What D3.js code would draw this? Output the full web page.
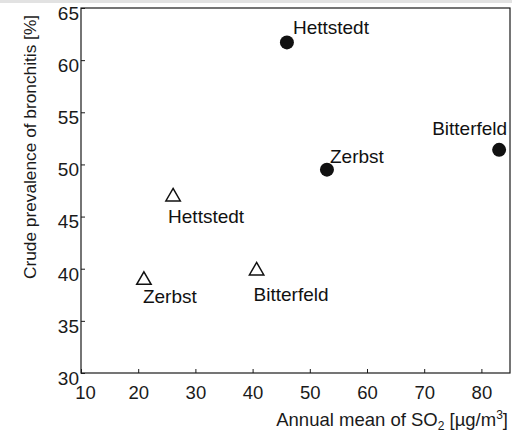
<!DOCTYPE html>
<html>
<head>
<meta charset="utf-8">
<script src="https://cdn.jsdelivr.net/npm/d3@7"></script>
<style>
  body { margin: 0; background: #fff; }
  svg { display: block; font-family: "Liberation Sans", Arial, sans-serif; }
</style>
</head>
<body>
<div id="chart"></div>
<script>
// towns and values
const towns = ['Hettstedt', 'Zerbst', 'Bitterfeld'];
const so2Filled = [46, 53, 83.1];
const prevFilled = [61.7, 49.5, 51.4];
const so2Open = [26.1, 21, 40.7];
const prevOpen = [46.9, 38.9, 39.8];
const xTicks = [10, 20, 30, 40, 50, 60, 70, 80];
const yTicks = [30, 35, 40, 45, 50, 55, 60, 65];

// label offsets per point (dx, dy, anchor)
const filledLabelPos = [[6, -8, 'start'], [3, -7, 'start'], [8, -15, 'end']];
const openLabelPos = [[-5, 26, 'start'], [-1, 23, 'start'], [-3, 30, 'start']];

const W = 512, H = 432;
const m = { left: 81, top: 8, right: 2, bottom: 59 };

const svg = d3.select('#chart').append('svg')
    .attr('width', W)
    .attr('height', H);

// scanner band at the top
svg.append('rect')
    .attr('width', W).attr('height', 3)
    .attr('fill', '#e2e2e2');

const x = d3.scaleLinear().domain([10, 85]).range([m.left, W - m.right]);
const y = d3.scaleLinear().domain([30, 65]).range([H - m.bottom, m.top]);

const ink = '#1a1a1a';

svg.append('rect')
    .attr('x', x(10)).attr('y', y(65))
    .attr('width', x(85) - x(10)).attr('height', y(30) - y(65))
    .attr('fill', 'none').attr('stroke', ink).attr('stroke-width', 1.2);

const xAxis = svg.append('g')
    .attr('transform', `translate(0,${y(30)})`)
    .call(d3.axisBottom(x).tickValues(xTicks).tickSizeInner(-4).tickSizeOuter(0).tickPadding(10));
xAxis.select('.domain').remove();
xAxis.selectAll('line').attr('stroke', ink);
xAxis.selectAll('text')
    .attr('font-size', 18.5)
    .attr('fill', ink)
    .attr('dy', '0.85em')
    .attr('dx', d => d === 10 ? 4 : 0);

const yAxis = svg.append('g')
    .attr('transform', `translate(${x(10)},0)`)
    .call(d3.axisLeft(y).tickValues(yTicks).tickSizeInner(-4).tickSizeOuter(0).tickPadding(2));
yAxis.select('.domain').remove();
yAxis.selectAll('line').attr('stroke', ink);
yAxis.selectAll('text')
    .attr('font-size', 19)
    .attr('fill', ink)
    .attr('dy', '0.6em');

svg.append('text')
    .attr('x', 508).attr('y', 426)
    .attr('text-anchor', 'end')
    .attr('font-size', 18.5)
    .attr('fill', ink)
    .html('Annual mean of SO<tspan font-size="12" dy="4">2</tspan><tspan dy="-4"> [µg/m</tspan><tspan font-size="12" dy="-7">3</tspan><tspan dy="7">]</tspan>');

svg.append('text')
    .attr('transform', 'translate(36,147) rotate(-90)')
    .attr('text-anchor', 'middle')
    .attr('font-size', 17.3)
    .attr('fill', ink)
    .text('Crude prevalence of bronchitis [%]');

// filled circles
const filled = towns.map((t, i) => ({ town: t, so2: so2Filled[i], prev: prevFilled[i], pos: filledLabelPos[i] }));
const open = towns.map((t, i) => ({ town: t, so2: so2Open[i], prev: prevOpen[i], pos: openLabelPos[i] }));

svg.selectAll('circle.pt')
    .data(filled)
    .enter()
    .append('circle')
    .attr('class', 'pt')
    .attr('cx', d => x(d.so2))
    .attr('cy', d => y(d.prev))
    .attr('r', 7)
    .attr('fill', '#111');

const tri = d3.symbol().type(d3.symbolTriangle).size(90);
svg.selectAll('path.tri')
    .data(open)
    .enter()
    .append('path')
    .attr('class', 'tri')
    .attr('d', tri)
    .attr('transform', d => `translate(${x(d.so2)},${y(d.prev)})`)
    .attr('fill', 'none')
    .attr('stroke', '#111')
    .attr('stroke-width', 1.5);

svg.selectAll('text.lab')
    .data(filled.concat(open))
    .enter()
    .append('text')
    .attr('class', 'lab')
    .attr('x', d => x(d.so2) + d.pos[0])
    .attr('y', d => y(d.prev) + d.pos[1])
    .attr('text-anchor', d => d.pos[2])
    .attr('font-size', 19)
    .attr('fill', '#111')
    .text(d => d.town);
</script>
</body>
</html>
